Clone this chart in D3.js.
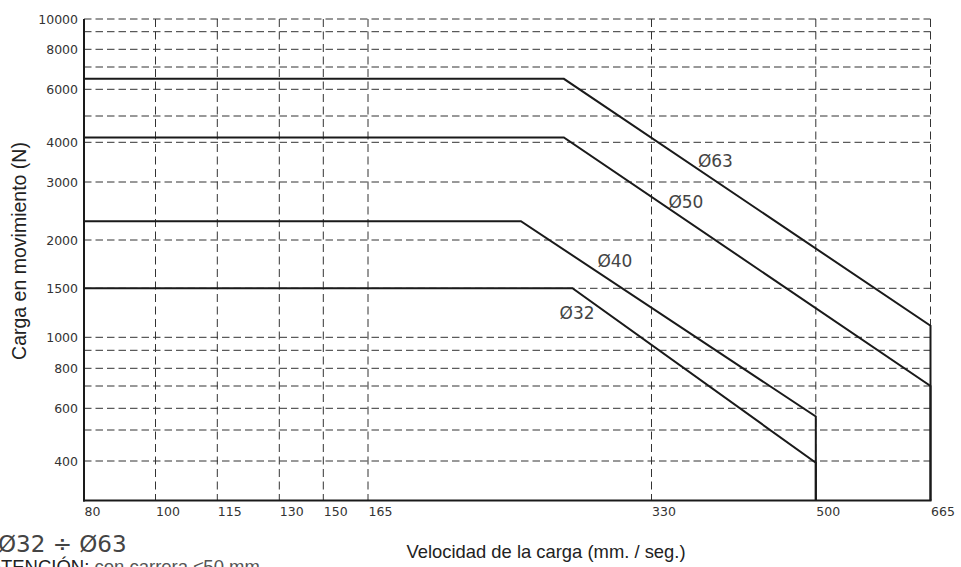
<!DOCTYPE html>
<html>
<head>
<meta charset="utf-8">
<script src="https://cdn.jsdelivr.net/npm/d3@7"></script>
<style>
  html, body { margin: 0; padding: 0; background: #fff; }
  svg { display: block; }
</style>
</head>
<body>
<svg id="chart" width="961" height="567"></svg>
<script>
// ---------------- DATA ----------------
const xTickValues = [80, 100, 115, 130, 150, 165, 330, 500, 665];
const xGridValues = [100, 115, 130, 150, 165, 330, 500, 665];
const yTickValues = [400, 600, 800, 1000, 1500, 2000, 3000, 4000, 6000, 8000, 10000];
const yGridValues = [400, 500, 600, 700, 800, 900, 1000, 1500, 2000, 3000, 4000, 5000, 6000, 7000, 8000, 9000, 10000];
const yMin = 300;

const seriesNames = ["Ø63", "Ø50", "Ø40", "Ø32"];
// velocity (mm/s) breakpoints of each curve
const kneeVelocity = [279, 279, 254, 284];
const endVelocity  = [665, 665, 500, 500];
// load (N) values
const flatLoad = [6450, 4170, 2280, 1500];
const endLoad  = [1100, 700, 560, 395];
// label anchors (velocity, load)
const labelVelocity = [378, 347.5, 298.5, 276.5];
const labelLoad     = [3340, 2500, 1700, 1160];

const xTitle = "Velocidad de la carga (mm. / seg.)";
const yTitle = "Carga en movimiento (N)";
const rangeTitle = "Ø32 ÷ Ø63";
const noteBold = "ATENCIÓN:";
const noteText = " con carrera ≤50 mm";

(function () {
// ---------------- LAYOUT ----------------
const svg = d3.select("#chart");
const pLeft = 84, pRight = 930.5, pTop = 19, pBottom = 500.5;

// The original axes are calibrated (non-uniform) scales
const x = d3.scaleLinear()
  .domain(xTickValues)
  .range([pLeft, 155.5, 217.3, 279.3, 323.3, 368, 651.5, 815.8, pRight]);

const y = d3.scaleLog()
  .domain([yMin].concat(yGridValues))
  .range([pBottom, 461, 430, 408.3, 386, 368.3, 350.3, 337.3, 288.3, 240, 182, 142.3, 116, 89.3, 67, 49.3, 31.7, pTop]);

// ---------------- GRID ----------------
const grid = svg.append("g");
grid.selectAll("line.h")
  .data(yGridValues)
  .join("line")
  .attr("class", "h")
  .attr("x1", pLeft).attr("x2", pRight)
  .attr("y1", d => y(d)).attr("y2", d => y(d))
  .attr("stroke", "#333")
  .attr("stroke-width", 1)
  .attr("stroke-dasharray", "7.5,4");

grid.selectAll("line.v")
  .data(xGridValues)
  .join("line")
  .attr("class", "v")
  .attr("x1", d => x(d)).attr("x2", d => x(d))
  .attr("y1", pTop).attr("y2", pBottom)
  .attr("stroke", "#333")
  .attr("stroke-width", 1)
  .attr("stroke-dasharray", "8,4.5");

// ---------------- CURVES ----------------
const curves = seriesNames.map((name, i) => ({
  name,
  pts: [
    [xTickValues[0], flatLoad[i]],
    [kneeVelocity[i], flatLoad[i]],
    [endVelocity[i], endLoad[i]],
    [endVelocity[i], yMin]
  ]
}));

const line = d3.line().x(d => x(d[0])).y(d => y(d[1]));
svg.append("g").selectAll("path")
  .data(curves)
  .join("path")
  .attr("d", d => line(d.pts))
  .attr("fill", "none")
  .attr("stroke", "#1a1a1a")
  .attr("stroke-width", 2)
  .attr("stroke-linejoin", "miter");

// curve labels
svg.append("g").selectAll("text")
  .data(seriesNames)
  .join("text")
  .attr("x", (d, i) => x(labelVelocity[i]))
  .attr("y", (d, i) => y(labelLoad[i]))
  .attr("font-family", "DejaVu Sans, sans-serif")
  .attr("font-size", 17)
  .attr("fill", "#444")
  .text(d => d);

// ---------------- AXES ----------------
svg.append("line")
  .attr("x1", pLeft).attr("x2", pLeft).attr("y1", pTop).attr("y2", pBottom + 1)
  .attr("stroke", "#1a1a1a").attr("stroke-width", 2);
svg.append("line")
  .attr("x1", pLeft - 1).attr("x2", pRight + 1).attr("y1", pBottom).attr("y2", pBottom)
  .attr("stroke", "#1a1a1a").attr("stroke-width", 2);

// y tick labels
svg.append("g").selectAll("text")
  .data(yTickValues)
  .join("text")
  .attr("x", 78)
  .attr("y", d => y(d))
  .attr("dy", "0.36em")
  .attr("text-anchor", "end")
  .attr("font-family", "DejaVu Sans, sans-serif")
  .attr("font-size", 12.5)
  .attr("fill", "#333")
  .text(d => d);

// x tick labels
svg.append("g").selectAll("text")
  .data(xTickValues)
  .join("text")
  .attr("x", d => x(d) + 0.5)
  .attr("y", 516)
  .attr("font-family", "DejaVu Sans, sans-serif")
  .attr("font-size", 12.5)
  .attr("fill", "#333")
  .text(d => d);

// titles
svg.append("text")
  .attr("x", 546)
  .attr("y", 558)
  .attr("text-anchor", "middle")
  .attr("font-family", "Liberation Sans, Arial, sans-serif")
  .attr("font-size", 18.4)
  .attr("fill", "#222")
  .text(xTitle);

svg.append("text")
  .attr("transform", "translate(26,251) rotate(-90)")
  .attr("text-anchor", "middle")
  .attr("font-family", "Liberation Sans, Arial, sans-serif")
  .attr("font-size", 19.5)
  .attr("fill", "#222")
  .text(yTitle);

svg.append("text")
  .attr("x", -2)
  .attr("y", 552)
  .attr("font-family", "DejaVu Sans, sans-serif")
  .attr("font-size", 23)
  .attr("fill", "#444")
  .text(rangeTitle);

const note = svg.append("text")
  .attr("x", -10)
  .attr("y", 573)
  .attr("font-family", "Liberation Sans, Arial, sans-serif")
  .attr("font-size", 18.5)
  .attr("fill", "#222");
note.append("tspan").text(noteBold);
note.append("tspan").attr("fill", "#555").text(noteText);
})();
</script>
</body>
</html>
